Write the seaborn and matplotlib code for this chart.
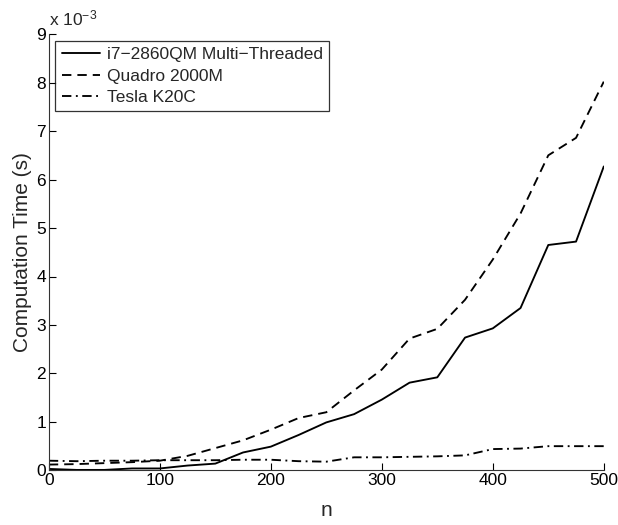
import matplotlib
matplotlib.use("Agg")
import matplotlib.pyplot as plt
import seaborn as sns
import numpy as np
import pandas as pd

# Data (values in units of 1e-3 s)
n_values = [0, 25, 50, 75, 100, 125, 150, 175, 200, 225, 250, 275, 300, 325, 350, 375, 400, 425, 450, 475, 500]
i7_ms = [0.03, 0.01, 0.01, 0.04, 0.04, 0.10, 0.14, 0.37, 0.49, 0.73, 0.99, 1.16, 1.46, 1.81, 1.92, 2.74, 2.93, 3.35, 4.65, 4.72, 6.27]
quadro_ms = [0.12, 0.13, 0.15, 0.17, 0.20, 0.30, 0.46, 0.62, 0.84, 1.08, 1.20, 1.65, 2.08, 2.72, 2.92, 3.52, 4.35, 5.30, 6.50, 6.86, 8.02]
tesla_ms = [0.20, 0.19, 0.20, 0.20, 0.21, 0.21, 0.21, 0.22, 0.22, 0.19, 0.18, 0.27, 0.27, 0.28, 0.29, 0.31, 0.44, 0.45, 0.50, 0.50, 0.50]
series_names = ["i7\u22122860QM Multi\u2212Threaded", "Quadro 2000M", "Tesla K20C"]
x_ticks = [0, 100, 200, 300, 400, 500]
y_ticks = [0, 1, 2, 3, 4, 5, 6, 7, 8, 9]

sns.set_style("ticks")
plt.rcParams['font.family'] = ['Liberation Sans', 'DejaVu Sans']
plt.rcParams['mathtext.fontset'] = 'custom'
plt.rcParams['mathtext.rm'] = 'Liberation Sans'
plt.rcParams['mathtext.it'] = 'Liberation Sans'

fig = plt.figure(figsize=(6.18, 5.25), dpi=100)
ax = fig.add_axes([0.079, 0.104, 0.898, 0.831])

scale = 1e-3
styles = ['-', (0, (5.0, 3.2)), (0, (5.0, 2.4, 1.0, 2.4))]
for name, vals, ls in zip(series_names, [i7_ms, quadro_ms, tesla_ms], styles):
    sns.lineplot(x=n_values, y=np.array(vals) * scale, ax=ax, color='black',
                 linestyle=ls, linewidth=1.35, label=name)

ax.set_xlim(0, 500)
ax.set_ylim(0, 9 * scale)
ax.set_xticks(x_ticks)
ax.set_yticks(np.array(y_ticks) * scale)
ax.set_xticklabels([str(t) for t in x_ticks])
ax.set_yticklabels([str(t) for t in y_ticks])
ax.tick_params(direction='in', length=5, width=0.8, labelsize=12.5, colors='black', pad=2)
for side in ['top', 'right']:
    ax.spines[side].set_visible(False)
for side in ['left', 'bottom']:
    ax.spines[side].set_linewidth(0.8)
    ax.spines[side].set_color('#333333')

ax.set_xlabel('n', fontsize=15, labelpad=9)
ax.set_ylabel('Computation Time (s)', fontsize=15, labelpad=3)
ax.text(0.0, 1.012, r'x 10$^{-3}$', transform=ax.transAxes, fontsize=12.5,
        ha='left', va='bottom')

leg = ax.legend(loc='upper left', bbox_to_anchor=(0.012, 0.985), fontsize=12.5,
                frameon=True, fancybox=False, handlelength=2.2, handletextpad=0.4,
                borderpad=0.35, labelspacing=0.38, borderaxespad=0.0)
leg.get_frame().set_edgecolor('black')
leg.get_frame().set_linewidth(0.9)

fig.savefig('out.png', dpi=100)
